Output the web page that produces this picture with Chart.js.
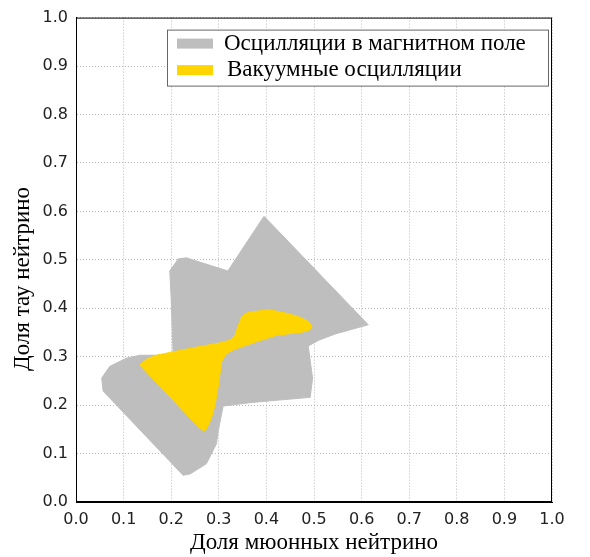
<!DOCTYPE html>
<html>
<head>
<meta charset="utf-8">
<script src="https://cdn.jsdelivr.net/npm/chart.js@4/dist/chart.umd.min.js"></script>
<style>
  html, body { margin: 0; padding: 0; background: #fff; }
  #wrap { width: 590px; height: 557px; }
</style>
</head>
<body>
<div id="wrap"><canvas id="flavour"></canvas></div>
<script>
// region boundaries (fraction of mu / tau neutrinos)
const magneticX = [0.395, 0.614, 0.578, 0.545, 0.510, 0.488, 0.492, 0.497, 0.492, 0.421, 0.365, 0.309,
  0.299, 0.295, 0.274, 0.240, 0.225, 0.057, 0.054, 0.071, 0.106, 0.134, 0.204, 0.200, 0.197, 0.215,
  0.232, 0.319, 0.395];
const magneticY = [0.590, 0.366, 0.356, 0.347, 0.334, 0.322, 0.292, 0.256, 0.216, 0.210, 0.205, 0.198,
  0.147, 0.120, 0.079, 0.058, 0.055, 0.229, 0.256, 0.280, 0.297, 0.303, 0.303, 0.419, 0.477, 0.502,
  0.504, 0.477, 0.590];

const vacuumX = [0.134, 0.150, 0.169, 0.239, 0.300, 0.323, 0.334, 0.341, 0.348, 0.356, 0.365, 0.407,
  0.449, 0.475, 0.490, 0.496, 0.490, 0.477, 0.421, 0.379, 0.330, 0.315, 0.306, 0.299, 0.292, 0.285,
  0.278, 0.271, 0.262, 0.134];
const vacuumY = [0.283, 0.296, 0.303, 0.317, 0.328, 0.334, 0.344, 0.365, 0.382, 0.389, 0.392, 0.397,
  0.388, 0.380, 0.371, 0.361, 0.355, 0.351, 0.344, 0.331, 0.314, 0.305, 0.290, 0.240, 0.200, 0.175,
  0.158, 0.147, 0.150, 0.283];

const tickValues = [0, 0.1, 0.2, 0.3, 0.4, 0.5, 0.6, 0.7, 0.8, 0.9, 1.0];

const labels = ['Осцилляции в магнитном поле', 'Вакуумные осцилляции'];
const colors = ['#bebebe', '#ffd500'];
const yTitle = 'Доля тау нейтрино';

const toPoints = (xs, ys) => xs.map((x, i) => ({ x, y: ys[i] }));

// frame round the plot, legend box inside it, y title
const framePlugin = {
  id: 'frame',
  afterDraw(chart) {
    const { ctx, chartArea: a } = chart;
    ctx.save();
    ctx.strokeStyle = '#000';
    ctx.lineWidth = 1;
    ctx.strokeRect(a.left + 0.5, a.top + 0.5, a.right - a.left - 1, a.bottom - a.top - 1);

    const bw = 381, bh = 56;
    const bx = a.right - 4 - bw, by = a.top + 12;
    ctx.fillStyle = '#fff';
    ctx.fillRect(bx, by, bw, bh);
    ctx.strokeStyle = '#666';
    ctx.strokeRect(bx + 0.5, by + 0.5, bw, bh);

    ctx.font = '23px "Liberation Serif", serif';
    ctx.textBaseline = 'middle';
    chart.data.datasets.forEach((ds, i) => {
      const cy = by + 14 + i * 26.5;
      ctx.fillStyle = ds.backgroundColor;
      ctx.fillRect(bx + 10, cy - 5, 36, 10);
      ctx.fillStyle = '#000';
      ctx.fillText(ds.label, bx + 57 + i * 3, cy);
    });

    ctx.translate(23, 279);
    ctx.rotate(-Math.PI / 2);
    ctx.textAlign = 'center';
    ctx.fillText(yTitle, 0, 0);
    ctx.restore();
  },
};

new Chart('flavour', {
  type: 'scatter',
  data: {
    datasets: [
      {
        label: labels[0],
        data: toPoints(magneticX, magneticY),
        showLine: true,
        fill: 'shape',
        backgroundColor: colors[0],
        borderColor: colors[0],
        borderWidth: 1,
        pointRadius: 0,
        tension: 0,
        order: 2,
      },
      {
        label: labels[1],
        data: toPoints(vacuumX, vacuumY),
        showLine: true,
        fill: 'shape',
        backgroundColor: colors[1],
        borderColor: colors[1],
        borderWidth: 1,
        pointRadius: 0,
        tension: 0,
        order: 1,
      },
    ],
  },
  options: {
    responsive: true,
    maintainAspectRatio: false,
    animation: false,
    layout: { padding: { top: 12, right: 38, left: 0, bottom: 0 } },
    plugins: {
      legend: { display: false },
      tooltip: { enabled: false },
    },
    scales: {
      x: {
        type: 'linear',
        min: 0,
        max: 1,
        afterBuildTicks: axis => { axis.ticks = tickValues.map(value => ({ value })); },
        afterFit: axis => { axis.height = 55; },
        ticks: {
          callback: v => v.toFixed(1),
          color: '#222',
          font: { family: 'DejaVu Sans', size: 16 },
          padding: 8,
          maxRotation: 0,
        },
        grid: { color: '#b8b8b8', drawTicks: false },
        border: { display: true, color: '#000', dash: [1, 2] },
        title: {
          display: true,
          text: 'Доля мюонных нейтрино',
          color: '#000',
          font: { family: 'Liberation Serif', size: 23 },
          padding: { top: 0, bottom: 0 },
        },
      },
      y: {
        type: 'linear',
        min: 0,
        max: 1,
        afterBuildTicks: axis => { axis.ticks = tickValues.map(value => ({ value })); },
        afterFit: axis => { axis.width = 76; },
        ticks: {
          callback: v => v.toFixed(1),
          color: '#222',
          font: { family: 'DejaVu Sans', size: 16 },
          padding: 8,
        },
        grid: { color: '#b8b8b8', drawTicks: false },
        border: { display: true, color: '#000', dash: [1, 2] },
      },
    },
  },
  plugins: [framePlugin],
});
</script>
</body>
</html>
